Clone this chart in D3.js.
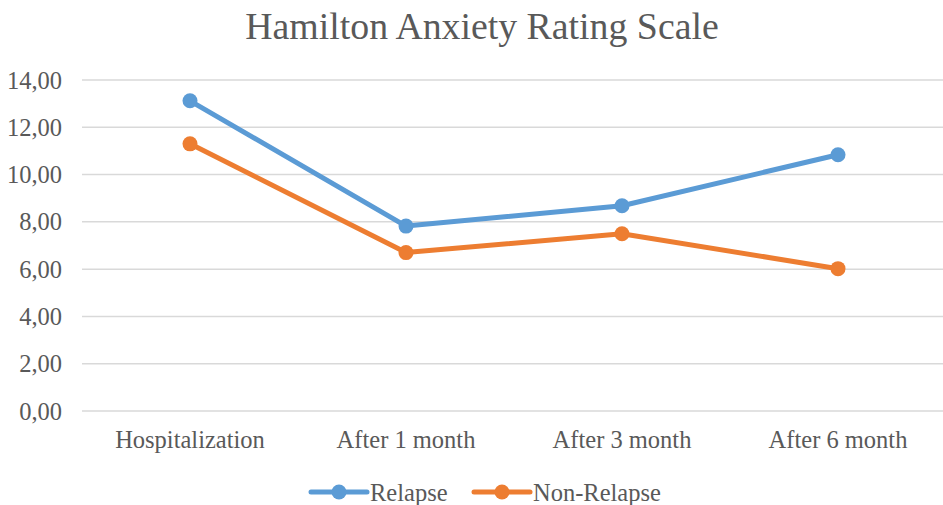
<!DOCTYPE html>
<html><head><meta charset="utf-8">
<script src="https://cdn.jsdelivr.net/npm/d3@7"></script>
<style>body{margin:0;background:#fff;} svg{display:block;}</style>
</head><body>
<script>
const categories = ["Hospitalization","After 1 month","After 3 month","After 6 month"];
const relapse = [13.12, 7.82, 8.68, 10.84];
const nonRelapse = [11.30, 6.70, 7.50, 6.02];
const yTicks = [0,2,4,6,8,10,12,14];
const seriesNames = ["Relapse","Non-Relapse"];
const colors = ["#5B9BD5","#ED7D31"];

const W = 943, H = 505;
const svg = d3.select("body").append("svg").attr("width", W).attr("height", H);
const font = "'Liberation Serif','Times New Roman',serif";
const textColor = "#595959";

const x = d3.scalePoint().domain(categories).range([82, 946]).padding(0.5);
const y = d3.scaleLinear().domain([0,14]).range([411, 80]);

// title
svg.append("text").attr("x", 482).attr("y", 39).attr("text-anchor","middle")
  .attr("font-family", font).attr("font-size", 37.8).attr("fill", textColor)
  .text("Hamilton Anxiety Rating Scale");

// gridlines
svg.append("g").selectAll("line").data(yTicks).join("line")
  .attr("x1", 82).attr("x2", 943)
  .attr("y1", d => y(d)).attr("y2", d => y(d))
  .attr("stroke", "#D9D9D9").attr("stroke-width", 1.5);

// y axis labels
const fmt = d => d3.format(".2f")(d).replace(".", ",");
svg.append("g").selectAll("text").data(yTicks).join("text")
  .attr("x", 62).attr("y", d => y(d)).attr("dy", "0.35em").attr("text-anchor","end")
  .attr("font-family", font).attr("font-size", 24.5).attr("fill", textColor)
  .text(fmt);

// x labels
svg.append("g").selectAll("text").data(categories).join("text")
  .attr("x", d => x(d)).attr("y", 448).attr("text-anchor","middle")
  .attr("font-family", font).attr("font-size", 24.5).attr("fill", textColor)
  .text(d => d);

const series = [relapse, nonRelapse];
const line = d3.line().x((d,i) => x(categories[i])).y(d => y(d));
series.forEach((s, k) => {
  svg.append("path").datum(s).attr("d", line).attr("fill","none")
    .attr("stroke", colors[k]).attr("stroke-width", 5).attr("stroke-linejoin","round").attr("stroke-linecap","round");
  svg.append("g").selectAll("circle").data(s).join("circle")
    .attr("cx", (d,i) => x(categories[i])).attr("cy", d => y(d)).attr("r", 7.5)
    .attr("fill", colors[k]);
});

// legend
const legendX = [311, 474];
seriesNames.forEach((n, k) => {
  const g = svg.append("g");
  g.append("line").attr("x1", legendX[k]).attr("x2", legendX[k]+56).attr("y1", 492).attr("y2", 492)
    .attr("stroke", colors[k]).attr("stroke-width", 5).attr("stroke-linecap","round");
  g.append("circle").attr("cx", legendX[k]+28).attr("cy", 492).attr("r", 7.5).attr("fill", colors[k]);
  g.append("text").attr("x", legendX[k]+59).attr("y", 492).attr("dy","0.35em")
    .attr("font-family", font).attr("font-size", 24.5).attr("fill", textColor).text(n);
});
</script>
</body></html>
